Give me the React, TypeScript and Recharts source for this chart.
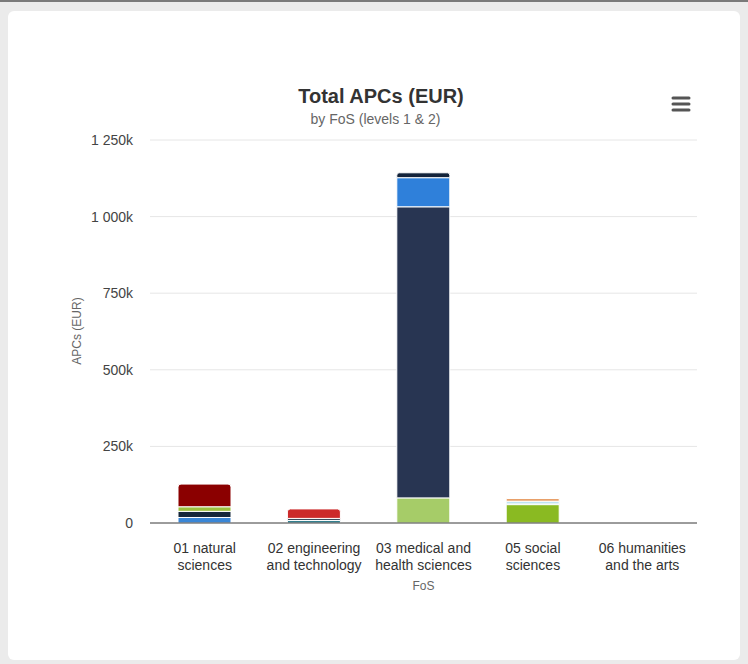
import React from 'react';
import { BarChart, Bar, XAxis, YAxis, CartesianGrid } from 'recharts';

// FoS level 1 categories, with the two lines each x label is drawn on
const categories = [
  '01 natural sciences',
  '02 engineering and technology',
  '03 medical and health sciences',
  '05 social sciences',
  '06 humanities and the arts',
];
const tickLines = [
  ['01 natural', 'sciences'],
  ['02 engineering', 'and technology'],
  ['03 medical and', 'health sciences'],
  ['05 social', 'sciences'],
  ['06 humanities', 'and the arts'],
];

// level 2 subfields, bottom to top, with their totals per category (EUR)
const naturalValues = [18000, 20000, 15000, 74000];
const engineeringValues = [8000, 7000, 31000];
const medicalValues = [82000, 950000, 95000, 16000];
const socialValues = [60000, 5000, 6000, 9000];
const humanitiesValues: number[] = [];

const naturalColors = ['#3a86d6', '#15263a', '#9cc03f', '#8b0000'];
const engineeringColors = ['#1f7384', '#3b4a5a', '#cc2a2a'];
const medicalColors = ['#a6cc68', '#283552', '#2f80da', '#13233a'];
const socialColors = ['#8aba22', '#5fb3b8', '#8fd0ea', '#e8a06a'];

const yTicks = [0, 250000, 500000, 750000, 1000000, 1250000];

const groups = [
  { key: 'nat', values: naturalValues, colors: naturalColors },
  { key: 'eng', values: engineeringValues, colors: engineeringColors },
  { key: 'med', values: medicalValues, colors: medicalColors },
  { key: 'soc', values: socialValues, colors: socialColors },
  { key: 'hum', values: humanitiesValues, colors: [] as string[] },
];

const data = categories.map((name, ci) => {
  const row: any = { name };
  groups.forEach((g, gi) => {
    g.values.forEach((v, si) => {
      row[`${g.key}_${si}`] = gi === ci ? v : 0;
    });
  });
  return row;
});

const fmtY = (v: number) => {
  if (v === 0) return '0';
  const k = v / 1000;
  return `${k}`.replace(/\B(?=(\d{3})+(?!\d))/g, ' ') + 'k';
};

const XTick = ({ x, y, payload }: any) => {
  const lines = tickLines[payload.index] || [payload.value];
  return (
    <text x={x} y={y} textAnchor="middle" fill="#333" fontSize={14}>
      {lines.map((l, i) => (
        <tspan key={i} x={x} dy={i === 0 ? 22 : 17}>{l}</tspan>
      ))}
    </text>
  );
};

const font = '"Liberation Sans", Arial, Helvetica, sans-serif';

export default function App() {
  return (
    <div style={{ position: 'absolute', left: 0, top: 0, width: 748, height: 664, background: '#ebebeb', fontFamily: font, overflow: 'hidden' }}>
      <div style={{ position: 'absolute', left: 0, top: 0, width: 748, height: 2, background: '#7a7a7a' }} />
      <div style={{ position: 'absolute', left: 8, top: 11, width: 732, height: 649, background: '#fff', borderRadius: 6 }} />

      <div style={{ position: 'absolute', left: 0, top: 0, width: 748, height: 664 }}>
        <BarChart width={748} height={664} data={data} margin={{ top: 140, right: 51, bottom: 71, left: 70 }}>
          <CartesianGrid vertical={false} stroke="#e6e6e6" />
          <XAxis
            dataKey="name"
            tick={<XTick />}
            tickLine={false}
            axisLine={{ stroke: '#444' }}
            interval={0}
            height={70}
            label={{ value: 'FoS', position: 'insideBottom', offset: 3, fill: '#666', fontSize: 12 }}
          />
          <YAxis
            width={80}
            domain={[0, 1250000]}
            ticks={yTicks}
            tickFormatter={fmtY}
            tickLine={false}
            axisLine={false}
            tickMargin={11}
            tick={{ fill: '#444', fontSize: 14 }}
          />
          {groups.map(g =>
            g.values.map((_, si) => (
              <Bar
                key={`${g.key}_${si}`}
                dataKey={`${g.key}_${si}`}
                stackId="a"
                fill={g.colors[si]}
                stroke="#fff"
                strokeWidth={1}
                barSize={53}
                radius={si === g.values.length - 1 && g.key !== 'soc' ? [3, 3, 0, 0] : 0}
                isAnimationActive={false}
              />
            ))
          )}
        </BarChart>
      </div>

      <div style={{ position: 'absolute', left: 0, width: 762, top: 85, textAlign: 'center', fontSize: 20, fontWeight: 'bold', color: '#333' }}>
        Total APCs (EUR)
      </div>
      <div style={{ position: 'absolute', left: 0, width: 751, top: 111, textAlign: 'center', fontSize: 14, color: '#666' }}>
        by FoS (levels 1 &amp; 2)
      </div>
      <div style={{ position: 'absolute', left: 77, top: 331, transform: 'translate(-50%, -50%) rotate(-90deg)', fontSize: 12, color: '#666', whiteSpace: 'nowrap' }}>
        APCs (EUR)
      </div>
      <svg style={{ position: 'absolute', left: 670, top: 94 }} width={22} height={20}>
        <line x1={3} x2={19} y1={4} y2={4} stroke="#555" strokeWidth={3} strokeLinecap="round" />
        <line x1={3} x2={19} y1={10} y2={10} stroke="#555" strokeWidth={3} strokeLinecap="round" />
        <line x1={3} x2={19} y1={16} y2={16} stroke="#555" strokeWidth={3} strokeLinecap="round" />
      </svg>
    </div>
  );
}
